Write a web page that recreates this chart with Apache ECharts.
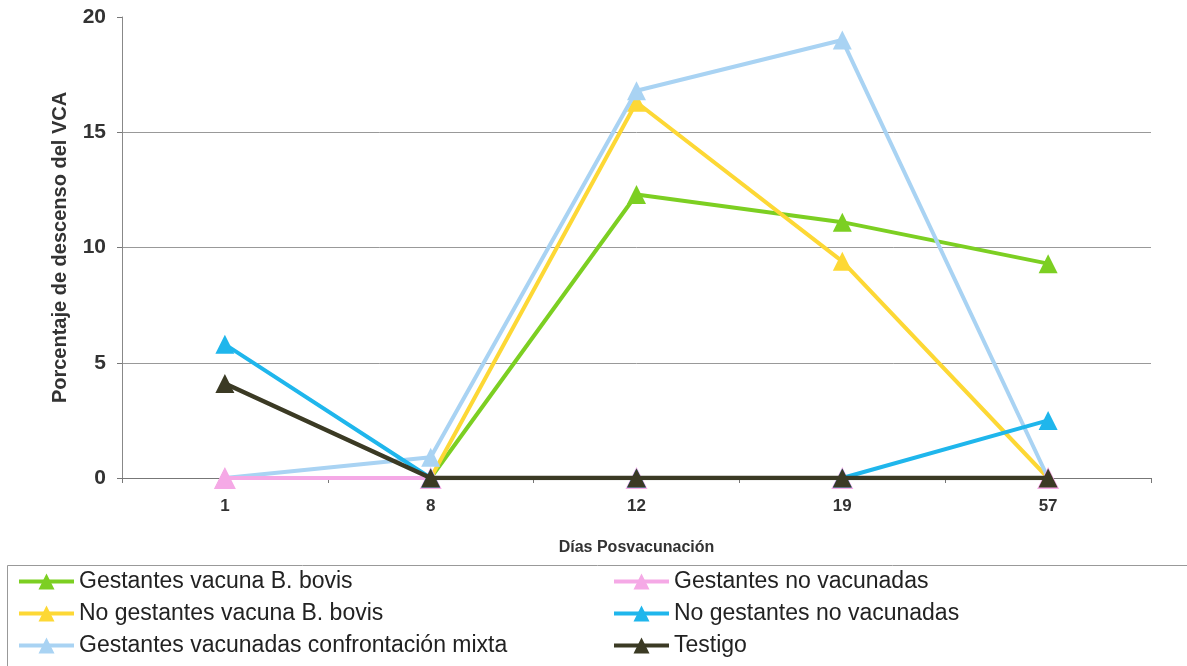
<!DOCTYPE html>
<html>
<head>
<meta charset="utf-8">
<script src="https://cdn.jsdelivr.net/npm/echarts@6/dist/echarts.min.js"></script>
<style>
  html, body { margin: 0; padding: 0; background: #fff; }
  #chart { width: 1187px; height: 666px; }
</style>
</head>
<body>
<div id="chart"></div>
<script>
// días posvacunación
const dias = ['1', '8', '12', '19', '57']

const seriesNames = [
  'Gestantes vacuna B. bovis',
  'No gestantes vacuna B. bovis',
  'Gestantes vacunadas confrontación mixta',
  'Gestantes no vacunadas',
  'No gestantes no vacunadas',
  'Testigo'
]
const seriesColors = ['#7ccf22', '#fdd835', '#a9d3f3', '#f5a9e6', '#1fb6ec', '#3b3a24']

const gestVacuna = [0, 0, 12.3, 11.1, 9.3]
const noGestVacuna = [0, 0, 16.3, 9.4, 0]
const gestConfrontacion = [0, 0.9, 16.8, 19.0, 0]
const gestNoVacunadas = [0, 0, 0, 0, 0]
const noGestNoVacunadas = [5.8, 0, 0, 0, 2.5]
const testigo = [4.1, 0, 0, 0, 0]

const seriesValues = [gestVacuna, noGestVacuna, gestConfrontacion, gestNoVacunadas, noGestNoVacunadas, testigo]

const chart = echarts.init(document.getElementById('chart'))

const series = seriesNames.map((name, i) => ({
  name: name,
  type: 'line',
  data: seriesValues[i],
  symbol: 'triangle',
  symbolSize: i === 3 ? 22 : 19,
  lineStyle: { color: seriesColors[i], width: i === 5 ? 4.5 : 4 },
  itemStyle: { color: seriesColors[i] },
  emphasis: { disabled: true },
  z: 2 + i
}))

const legendCommon = {
  orient: 'vertical',
  top: 570,
  padding: 0,
  itemWidth: 55,
  itemHeight: 20,
  itemGap: 9,
  lineStyle: { width: 4 },
  textStyle: { fontFamily: 'Liberation Sans', fontSize: 23, color: '#222', lineHeight: 23 }
}

chart.setOption({
  backgroundColor: '#fff',
  animation: false,
  grid: { left: 122, right: 36, top: 17, bottom: 188 },
  legend: [
    Object.assign({ left: 17, data: seriesNames.slice(0, 3) }, legendCommon),
    Object.assign({ left: 612, data: seriesNames.slice(3) }, legendCommon)
  ],
  graphic: [{
    type: 'rect',
    left: 5,
    top: 563,
    shape: { width: 1180, height: 120 },
    style: { fill: 'none', stroke: '#999', lineWidth: 1 },
    silent: true
  }],
  xAxis: {
    type: 'category',
    data: dias,
    boundaryGap: true,
    name: 'Días Posvacunación',
    nameLocation: 'middle',
    nameGap: 62,
    nameTextStyle: { fontFamily: 'Liberation Sans', fontSize: 16, fontWeight: 'bold', color: '#333' },
    axisLine: { lineStyle: { color: '#777', width: 1 } },
    axisTick: { show: true, alignWithLabel: false, length: 5, lineStyle: { color: '#777' } },
    axisLabel: { fontFamily: 'Liberation Sans', fontSize: 17, fontWeight: 'bold', color: '#333', margin: 20 },
    splitLine: { show: false }
  },
  yAxis: {
    type: 'value',
    min: 0,
    max: 20,
    interval: 5,
    name: 'Porcentaje de descenso del VCA',
    nameLocation: 'middle',
    nameGap: 52,
    nameTextStyle: { fontFamily: 'Liberation Sans', fontSize: 20, fontWeight: 'bold', color: '#333' },
    axisLine: { show: true, lineStyle: { color: '#888', width: 1 } },
    axisTick: { show: true, length: 5, lineStyle: { color: '#777' } },
    axisLabel: { fontFamily: 'Liberation Sans', fontSize: 21, fontWeight: 'bold', color: '#333', margin: 16 },
    splitLine: { show: true, showMaxLine: false, lineStyle: { color: '#999', width: 1 } }
  },
  series: series
})
</script>
</body>
</html>
